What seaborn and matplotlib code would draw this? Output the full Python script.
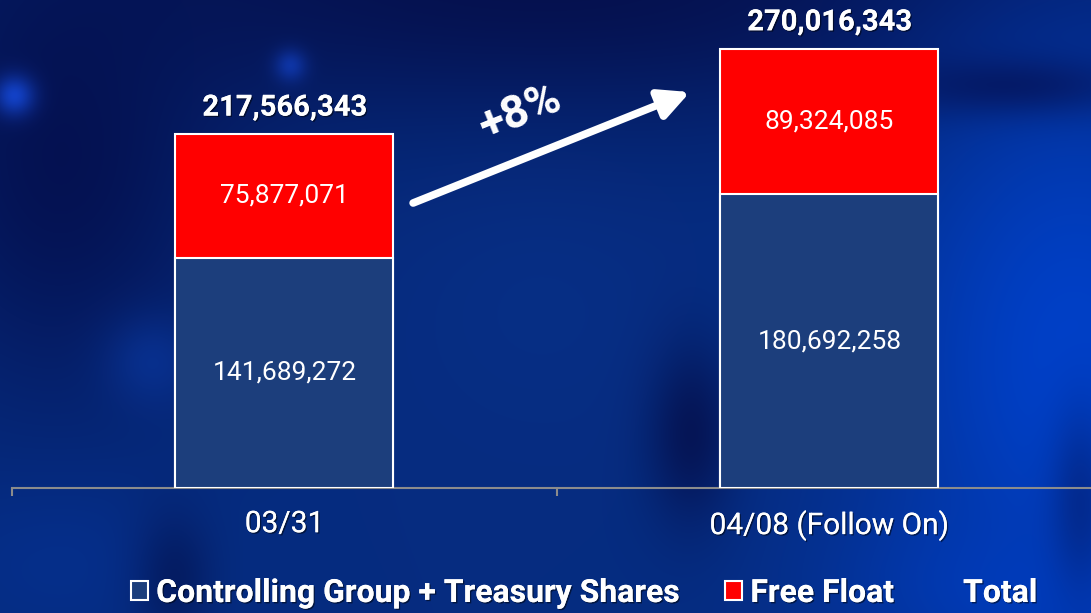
import numpy as np
import pandas as pd
import matplotlib
matplotlib.use("Agg")
import matplotlib.pyplot as plt
import matplotlib.patheffects as pe
from matplotlib.patches import Patch
import seaborn as sns

categories = ["03/31", "04/08 (Follow On)"]
controlling = [141689272, 180692258]
free_float = [75877071, 89324085]
totals = [217566343, 270016343]
legend_labels = ["Controlling Group + Treasury Shares", "Free Float", "Total"]
growth_label = "+8%"

NAVY = "#1c3e7c"
RED = "#ff0000"

sns.set_theme(style="white")
plt.rcParams["font.family"] = ["Roboto", "DejaVu Sans"]

W, H = 1091, 613
fig = plt.figure(figsize=(W / 100, H / 100), dpi=100)

# ---- background (decorative gradient) ----
bg = fig.add_axes([0, 0, 1, 1], zorder=-10)
yy, xx = np.mgrid[0:H, 0:W].astype(float)
img = np.zeros((H, W, 3))
img[:] = np.array([6, 44, 128]) / 255

def blend(img, cx, cy, rx, ry, col, s):
    w = (np.exp(-(((xx - cx) / rx) ** 2 + ((yy - cy) / ry) ** 2)) * s)[..., None]
    return img * (1 - w) + (np.array(col) / 255) * w

for args in [
    (545, -20, 650, 150, (5, 12, 70), 0.85),
    (60, 170, 170, 230, (4, 12, 72), 0.8),
    (1075, 360, 200, 320, (0, 64, 200), 1.0),
    (1060, 590, 200, 80, (0, 60, 190), 0.8),
    (1010, 85, 130, 30, (5, 20, 90), 0.75),
    (1080, 500, 30, 90, (4, 25, 100), 0.5),
    (690, 430, 45, 90, (5, 10, 65), 0.7),
    (540, 300, 130, 130, (8, 50, 140), 0.4),
    (170, 575, 40, 60, (3, 10, 60), 0.6),
    (60, 560, 120, 80, (5, 50, 150), 0.5),
    (14, 95, 20, 20, (20, 70, 210), 0.9),
    (290, 65, 16, 16, (20, 70, 210), 0.6),
    (150, 360, 45, 45, (10, 60, 170), 0.5),
]:
    img = blend(img, *args)
bg.imshow(np.clip(img, 0, 1), aspect="auto", extent=(0, W, H, 0))
bg.set_axis_off()

# ---- main axes (category bands 545 px wide, last band runs past the edge) ----
ax = fig.add_axes([12 / W, 1 - 488 / H, 1090 / W, 488 / H])
ax.patch.set_alpha(0)

df = pd.DataFrame({"category": categories, "controlling": controlling,
                   "free_float": free_float, "total": totals})

sns.barplot(data=df, x="category", y="total", color=RED, saturation=1,
            width=0.4, edgecolor="white", linewidth=1.5, ax=ax, zorder=2)
sns.barplot(data=df, x="category", y="controlling", color=NAVY, saturation=1,
            width=0.4, edgecolor="white", linewidth=1.5, ax=ax, zorder=3)

ax.set_xlim(-0.5, 1.5)
ax.set_ylim(0, 300e6)
ax.set_xlabel("")
ax.set_ylabel("")
ax.set_yticks([])
for s in ["top", "right", "left"]:
    ax.spines[s].set_visible(False)
ax.spines["bottom"].set_color("#8c8c8c")
ax.spines["bottom"].set_linewidth(1.5)

shadow = [pe.withSimplePatchShadow(offset=(1, -1), shadow_rgbFace="black", alpha=0.5), pe.Normal()]
ax.set_xticks(range(len(categories)))
ax.set_xticklabels(categories, color="white", fontsize=21.5)
ax.tick_params(axis="x", which="major", length=0, pad=16)
ax.set_xticks([-0.5, 0.5, 1.5], minor=True)
ax.tick_params(axis="x", which="minor", length=6, width=1.5, color="#8c8c8c", bottom=True)
for t in ax.get_xticklabels():
    t.set_path_effects(shadow)

for i in range(len(categories)):
    ax.text(i, controlling[i] / 2, f"{controlling[i]:,}", ha="center", va="center",
            color="white", fontsize=19, zorder=5)
    ax.text(i, controlling[i] + free_float[i] / 2, f"{free_float[i]:,}", ha="center",
            va="center", color="white", fontsize=19, zorder=5)
    ax.annotate(f"{totals[i]:,}", xy=(i, totals[i]), xytext=(0, 9),
                textcoords="offset points", ha="center", va="bottom",
                color="white", fontsize=21, fontweight="bold", annotation_clip=False,
                path_effects=shadow)

# growth arrow
ax.annotate("", xy=(0.744, 243.4e6), xytext=(0.236, 175.2e6),
            arrowprops=dict(arrowstyle="-|>,head_length=0.9,head_width=0.45",
                            color="white", lw=5.5, mutation_scale=20, shrinkA=0, shrinkB=0))
ax.text(0.433, 231e6, growth_label, rotation=22, ha="center", va="center",
        color="white", fontsize=33, fontweight="bold", rotation_mode="anchor")

handles = [Patch(facecolor=NAVY, edgecolor="white", linewidth=1.5),
           Patch(facecolor=RED, edgecolor="white", linewidth=1.5),
           Patch(facecolor="none", edgecolor="none")]
leg = fig.legend(handles, legend_labels, loc="center", bbox_to_anchor=(584 / W, 1 - 593 / H),
                 ncol=3, frameon=False, handlelength=0.55, handleheight=0.55,
                 handletextpad=0.25, columnspacing=1.35,
                 prop={"family": "Roboto", "weight": "bold", "size": 23})
for t in leg.get_texts():
    t.set_color("white")
    t.set_path_effects(shadow)

fig.savefig("out.png", dpi=100)
